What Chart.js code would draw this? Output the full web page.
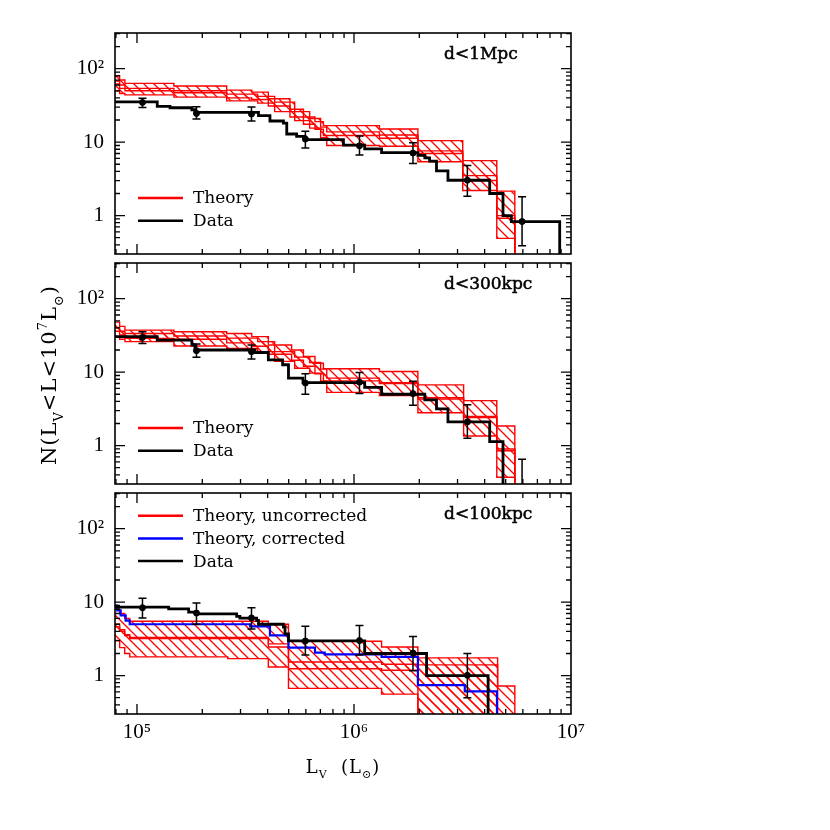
<!DOCTYPE html>
<html>
<head>
<meta charset="utf-8">
<script src="https://cdn.jsdelivr.net/npm/chart.js@4.4.1/dist/chart.umd.min.js"></script>
<style>
  body { margin: 0; background: #fff; }
  .wrap { position: relative; width: 830px; height: 830px; }
  canvas { position: absolute; left: 0; top: 0; }
</style>
</head>
<body>
<div class="wrap">
  <canvas id="p1" width="830" height="830"></canvas>
  <canvas id="p2" width="830" height="830"></canvas>
  <canvas id="p3" width="830" height="830"></canvas>
</div>
<script>
const RED = '#ff0000', BLUE = '#0000ff', BLACK = '#000000';
const L_MIN = 7.92e4, L_MAX = 1e7, N_MIN = 0.316, N_MAX = 306;

// tick labels
const xTickVals = [1e5, 1e6, 1e7];
const xTickText = ['10⁵', '10⁶', '10⁷'];
const yTickVals = [1, 10, 100];
const yTickText = ['1', '10', '10²'];

// luminosities where the error bars sit
const binL = [1.06e5, 1.88e5, 3.37e5, 5.97e5, 1.06e6, 1.87e6, 3.33e6, 5.95e6];

// ---- d<1Mpc ----
const p1DataL = [7.92e4, 1.24e5, 1.42e5, 1.79e5, 1.85e5, 3.63e5, 4.10e5, 4.73e5, 4.90e5, 5.44e5, 5.95e5, 8.94e5, 1.12e6, 1.34e6, 1.97e6, 2.12e6, 2.23e6, 2.40e6, 2.71e6, 4.22e6, 4.86e6, 5.31e6, 8.87e6];
const p1DataN = [35.4, 30.6, 29.4, 27.6, 25.4, 22.9, 19.4, 18.2, 12.9, 12.0, 10.8, 9.1, 8.1, 7.2, 6.6, 6.1, 5.5, 4.06, 3.03, 2.0, 1.0, 0.83, 0.01];
const p1ErrN = [34.7, 24.6, 24.1, 11.0, 8.9, 7.1, 3.03, 0.83];
const p1ErrHi = [39.6, 30.3, 30.0, 14.1, 12.1, 9.8, 4.8, 1.8];
const p1ErrLo = [29.7, 20.6, 19.4, 8.3, 6.7, 5.1, 1.84, 0.39];
const p1ThA_L = [7.92e4, 8.32e4, 8.80e4, 1.48e5, 2.59e5, 3.38e5, 4.03e5, 5.07e5, 5.85e5, 6.61e5, 7.23e5, 1.31e6, 1.97e6, 3.17e6, 4.55e6, 5.51e6];
const p1ThA_hi = [80, 70, 63, 58, 51, 48, 39, 28, 22, 19, 16.8, 15.1, 10.5, 5.6, 2.15, 0.01];
const p1ThA_lo = [62, 54, 50, 47, 40, 38, 31, 22, 17.5, 15, 12.3, 11.3, 7.0, 3.0, 0.92, 0.01];
const p1ThB_L = [7.92e4, 8.32e4, 8.80e4, 1.48e5, 2.59e5, 3.60e5, 4.31e5, 5.33e5, 6.25e5, 7.02e5, 7.49e5, 1.31e6, 1.97e6, 3.17e6, 4.55e6, 5.51e6];
const p1ThB_hi = [68, 60, 54, 50, 45, 42, 35, 26, 21, 16, 13.8, 12.5, 7.6, 3.5, 1.0, 0.01];
const p1ThB_lo = [50, 46, 44, 41, 36.5, 34, 26, 19.6, 15.5, 11.5, 9.0, 8.8, 5.4, 2.2, 0.49, 0.01];

// ---- d<300kpc ----
const p2DataL = [7.92e4, 1.24e5, 1.79e5, 1.85e5, 3.50e5, 4.03e5, 4.69e5, 4.99e5, 5.82e5, 1.12e6, 1.34e6, 2.12e6, 2.40e6, 2.71e6, 4.22e6, 4.86e6];
const p2DataN = [30.4, 27.3, 23.4, 20.0, 18.5, 14.7, 12.6, 8.3, 7.2, 6.2, 5.0, 4.2, 3.16, 2.1, 1.13, 0.01];
const p2ErrN = [29.7, 19.6, 19.0, 7.1, 7.3, 5.1, 2.1, 0.2];
const p2ErrHi = [35.5, 24.1, 23.4, 9.5, 9.9, 7.5, 3.6, 0.65];
const p2ErrLo = [24.6, 16.0, 15.1, 5.0, 5.1, 3.55, 1.26, 0.05];
const p2ThA_L = [7.92e4, 8.32e4, 8.80e4, 1.48e5, 2.59e5, 3.38e5, 4.03e5, 5.16e5, 5.85e5, 6.61e5, 7.23e5, 1.31e6, 1.97e6, 3.20e6, 4.55e6, 5.51e6];
const p2ThA_hi = [48, 42, 37.3, 35.5, 33.6, 30.4, 23.4, 20, 16.3, 13.2, 11.1, 10.2, 6.7, 4.1, 1.85, 0.01];
const p2ThA_lo = [36, 32, 28.8, 28, 25, 22.5, 17.5, 14.5, 12, 9.5, 7.6, 7.0, 4.3, 2.4, 0.9, 0.01];
const p2ThB_L = [7.92e4, 8.32e4, 8.80e4, 1.48e5, 2.59e5, 3.60e5, 4.31e5, 5.33e5, 6.25e5, 7.02e5, 7.49e5, 1.31e6, 1.97e6, 3.20e6, 4.55e6, 5.51e6];
const p2ThB_hi = [40, 36, 33.6, 31, 29, 26, 19, 16, 13.5, 11, 8.3, 7.2, 4.5, 2.5, 0.85, 0.01];
const p2ThB_lo = [30, 28, 26, 22.7, 21, 19, 14, 11.3, 9.7, 7.5, 5.3, 4.8, 2.8, 1.35, 0.37, 0.01];

// ---- d<100kpc ----
const p3DataL = [7.92e4, 1.40e5, 1.73e5, 1.88e5, 2.88e5, 2.98e5, 3.56e5, 3.63e5, 4.73e5, 4.81e5, 4.99e5, 1.12e6, 2.16e6, 4.15e6];
const p3DataN = [8.55, 8.1, 7.3, 6.9, 6.4, 6.07, 5.65, 5.0, 4.58, 3.7, 2.96, 2.0, 1.0, 0.01];
const p3CorrL = [7.92e4, 8.11e4, 8.41e4, 8.87e4, 9.26e4, 3.32e5, 4.10e5, 4.99e5, 6.61e5, 7.33e5, 1.34e6, 1.97e6, 3.24e6, 4.56e6];
const p3CorrN = [9.0, 7.7, 6.6, 5.6, 5.0, 4.68, 3.53, 2.4, 2.05, 1.95, 1.8, 0.74, 0.61, 0.01];
const p3ErrN = [8.4, 7.1, 6.1, 2.96, 3.0, 2.03, 1.01];
const p3ErrHi = [11.3, 9.7, 8.4, 4.7, 4.8, 3.4, 2.0];
const p3ErrLo = [6.1, 5.0, 4.3, 1.9, 1.9, 1.16, 0.5];
const p3ThA_L = [7.92e4, 8.32e4, 8.78e4, 9.26e4, 4.03e5, 4.99e5, 1.34e6, 1.97e6, 4.59e6, 5.51e6];
const p3ThA_hi = [8.0, 7.0, 6.0, 5.5, 5.0, 2.93, 2.45, 1.74, 0.72, 0.01];
const p3ThA_lo = [4.6, 4.0, 3.5, 3.2, 2.7, 1.24, 1.18, 0.01, 0.01, 0.01];
const p3ThB_L = [7.92e4, 8.32e4, 8.78e4, 9.26e4, 2.62e5, 4.03e5, 4.99e5, 1.34e6, 1.97e6, 4.59e6];
const p3ThB_hi = [5.0, 4.2, 3.6, 3.3, 3.3, 2.45, 1.53, 1.43, 1.4, 0.01];
const p3ThB_lo = [3.0, 2.4, 2.0, 1.8, 1.7, 1.31, 0.67, 0.56, 0.01, 0.01];

const SERIF = '"DejaVu Serif", serif';
const TICK_FONT = { family: '"Liberation Serif", serif', size: 21 };

function hatch(ctx) {
  const s = 10, c = document.createElement('canvas');
  c.width = s; c.height = s;
  const g = c.getContext('2d');
  g.strokeStyle = RED; g.lineWidth = 1.3;
  g.beginPath();
  g.moveTo(-1, -1); g.lineTo(s + 1, s + 1);
  g.moveTo(-1, s - 1); g.lineTo(1, s + 1);
  g.moveTo(s - 1, -1); g.lineTo(s + 1, 1);
  g.stroke();
  return ctx.createPattern(c, 'repeat');
}

function step(L, N, color, width, order) {
  return { data: L.map((x, i) => ({ x, y: N[i] })), borderColor: color, borderWidth: width,
    stepped: 'before', pointRadius: 0, fill: false, order };
}
function band(L, hi, lo, pat) {
  const top = step(L, hi, RED, 1.4, 3);
  const bot = step(L, lo, RED, 1.4, 3);
  bot.fill = '-1';
  bot.backgroundColor = pat;
  return [top, bot];
}
function errs(N, lo, hi) {
  return { data: N.map((y, i) => ({ x: binL[i], y })), showLine: false, pointRadius: 3,
    pointBackgroundColor: BLACK, pointBorderColor: BLACK, borderColor: BLACK,
    errLo: lo, errHi: hi, order: 0 };
}
function pick(v, vals, text) {
  const i = vals.findIndex(t => Math.abs(v / t - 1) < 1e-6);
  return i < 0 ? '' : text[i];
}

function logTicks(scale) {
  const out = [];
  for (let e = Math.floor(Math.log10(scale.min)); e <= Math.ceil(Math.log10(scale.max)); e++) {
    for (let k = 1; k <= 9; k++) {
      const v = k * Math.pow(10, e);
      if (v > scale.min * 1.001 && v < scale.max * 0.999) out.push({ v, major: k === 1 });
    }
  }
  return out;
}

// text with sub/superscripts, centred on cx, baseline at by
function rich(ctx, parts, size, cx, by) {
  const sm = Math.round(size * 0.62);
  const fontOf = k => `${k ? sm : size}px ${SERIF}`;
  const w = parts.map(([t, k]) => { ctx.font = fontOf(k); return ctx.measureText(t).width; });
  let xx = cx - w.reduce((s, v) => s + v, 0) / 2;
  ctx.textAlign = 'left';
  ctx.textBaseline = 'alphabetic';
  parts.forEach(([t, k], i) => {
    ctx.font = fontOf(k);
    const dy = k < 0 ? size * 0.32 : k > 0 ? -size * 0.45 : 0;
    ctx.fillText(t, xx, by + dy);
    xx += w[i];
  });
}

function decor(cfg) {
  return {
    id: 'decor',
    afterDatasetsDraw(chart) {
      const { ctx, chartArea: a, scales: { x, y } } = chart;
      ctx.save();
      ctx.beginPath();
      ctx.rect(a.left, a.top, a.right - a.left, a.bottom - a.top);
      ctx.clip();
      ctx.strokeStyle = BLACK;
      ctx.lineWidth = 1.5;
      chart.data.datasets.forEach(ds => {
        if (!ds.errHi) return;
        ds.data.forEach((p, i) => {
          const px = x.getPixelForValue(p.x);
          const yh = y.getPixelForValue(ds.errHi[i]);
          const yl = y.getPixelForValue(ds.errLo[i]);
          ctx.beginPath();
          ctx.moveTo(px, yh); ctx.lineTo(px, yl);
          ctx.moveTo(px - 4, yh); ctx.lineTo(px + 4, yh);
          ctx.moveTo(px - 4, yl); ctx.lineTo(px + 4, yl);
          ctx.stroke();
        });
      });
      ctx.restore();
    },
    afterDraw(chart) {
      const { ctx, chartArea: a, scales: { x, y } } = chart;
      ctx.save();
      ctx.strokeStyle = BLACK;
      ctx.lineWidth = 1.3;
      ctx.beginPath();
      logTicks(x).forEach(t => {
        const px = x.getPixelForValue(t.v), len = t.major ? 10 : 5;
        ctx.moveTo(px, a.bottom); ctx.lineTo(px, a.bottom - len);
        ctx.moveTo(px, a.top); ctx.lineTo(px, a.top + len);
      });
      logTicks(y).forEach(t => {
        const py = y.getPixelForValue(t.v), len = t.major ? 10 : 5;
        ctx.moveTo(a.left, py); ctx.lineTo(a.left + len, py);
        ctx.moveTo(a.right, py); ctx.lineTo(a.right - len, py);
      });
      ctx.stroke();
      ctx.lineWidth = 1.6;
      ctx.strokeRect(a.left, a.top, a.right - a.left, a.bottom - a.top);

      // region label
      ctx.fillStyle = BLACK;
      ctx.font = `17px ${SERIF}`;
      ctx.textAlign = 'left';
      ctx.textBaseline = 'middle';
      ctx.lineWidth = 0.5;
      ctx.fillText(cfg.label, 444, a.top + 21.5);
      ctx.strokeText(cfg.label, 444, a.top + 21.5);

      // legend
      cfg.legend.forEach(([text, color], i) => {
        const ly = a.top + cfg.legendTop + i * 22.7;
        ctx.strokeStyle = color;
        ctx.lineWidth = 2.5;
        ctx.beginPath();
        ctx.moveTo(a.left + 23, ly); ctx.lineTo(a.left + 68, ly);
        ctx.stroke();
        ctx.fillStyle = BLACK;
        ctx.font = `17px ${SERIF}`;
        ctx.textBaseline = 'middle';
        ctx.fillText(text, a.left + 78, ly + 1);
      });

      ctx.fillStyle = BLACK;
      ctx.letterSpacing = '1px';
      if (cfg.yTitle) {
        ctx.save();
        ctx.translate(56, 375);
        ctx.rotate(-Math.PI / 2);
        rich(ctx, [['N(L', 0], ['V', -1], ['<L<10', 0], ['7', 1], ['L', 0], ['⊙', -1], [')', 0]], 21, 0, 0);
        ctx.restore();
      }
      if (cfg.xTitle) {
        rich(ctx, [['L', 0], ['V', -1], ['  (L', 0], ['⊙', -1], [')', 0]], 18, 343, 772.5);
      }
      ctx.restore();
    }
  };
}

// the x scale always reserves 40px below the plot, shown or not
function makeChart(id, datasets, pad, showX, cfg) {
  return new Chart(document.getElementById(id), {
    type: 'line',
    data: { datasets },
    options: {
      responsive: false,
      animation: false,
      events: [],
      layout: { padding: pad },
      scales: {
        x: {
          type: 'logarithmic', min: L_MIN, max: L_MAX, display: showX,
          grid: { display: false, drawTicks: false }, border: { display: false },
          ticks: { autoSkip: false, maxRotation: 0, padding: 6, font: TICK_FONT, color: BLACK,
            callback: v => pick(v, xTickVals, xTickText) },
          afterFit: s => { s.height = 40; }
        },
        y: {
          type: 'logarithmic', min: N_MIN, max: N_MAX,
          grid: { display: false, drawTicks: false }, border: { display: false },
          ticks: { autoSkip: false, padding: 11, font: TICK_FONT, color: BLACK,
            callback: v => pick(v, yTickVals, yTickText) },
          afterFit: s => { s.width = 115; }
        }
      },
      plugins: { legend: { display: false }, tooltip: { enabled: false } }
    },
    plugins: [decor(cfg)]
  });
}

const c1 = document.getElementById('p1').getContext('2d');
const c2 = document.getElementById('p2').getContext('2d');
const c3 = document.getElementById('p3').getContext('2d');

makeChart('p1', [
  ...band(p1ThA_L, p1ThA_hi, p1ThA_lo, hatch(c1)),
  ...band(p1ThB_L, p1ThB_hi, p1ThB_lo, hatch(c1)),
  step(p1DataL, p1DataN, BLACK, 2.8, 1),
  errs(p1ErrN, p1ErrLo, p1ErrHi)
], { top: 33, bottom: 536, left: 0, right: 259 }, false,
  { label: 'd<1Mpc', legendTop: 165, legend: [['Theory', RED], ['Data', BLACK]] });

makeChart('p2', [
  ...band(p2ThA_L, p2ThA_hi, p2ThA_lo, hatch(c2)),
  ...band(p2ThB_L, p2ThB_hi, p2ThB_lo, hatch(c2)),
  step(p2DataL, p2DataN, BLACK, 2.8, 1),
  errs(p2ErrN, p2ErrLo, p2ErrHi)
], { top: 263, bottom: 306, left: 0, right: 259 }, false,
  { label: 'd<300kpc', legendTop: 165, legend: [['Theory', RED], ['Data', BLACK]], yTitle: true });

makeChart('p3', [
  ...band(p3ThA_L, p3ThA_hi, p3ThA_lo, hatch(c3)),
  ...band(p3ThB_L, p3ThB_hi, p3ThB_lo, hatch(c3)),
  step(p3CorrL, p3CorrN, BLUE, 2.2, 2),
  step(p3DataL, p3DataN, BLACK, 2.8, 1),
  errs(p3ErrN, p3ErrLo, p3ErrHi)
], { top: 493, bottom: 76, left: 0, right: 259 }, true,
  { label: 'd<100kpc', legendTop: 22.7,
    legend: [['Theory, uncorrected', RED], ['Theory, corrected', BLUE], ['Data', BLACK]], xTitle: true });
</script>
</body>
</html>
